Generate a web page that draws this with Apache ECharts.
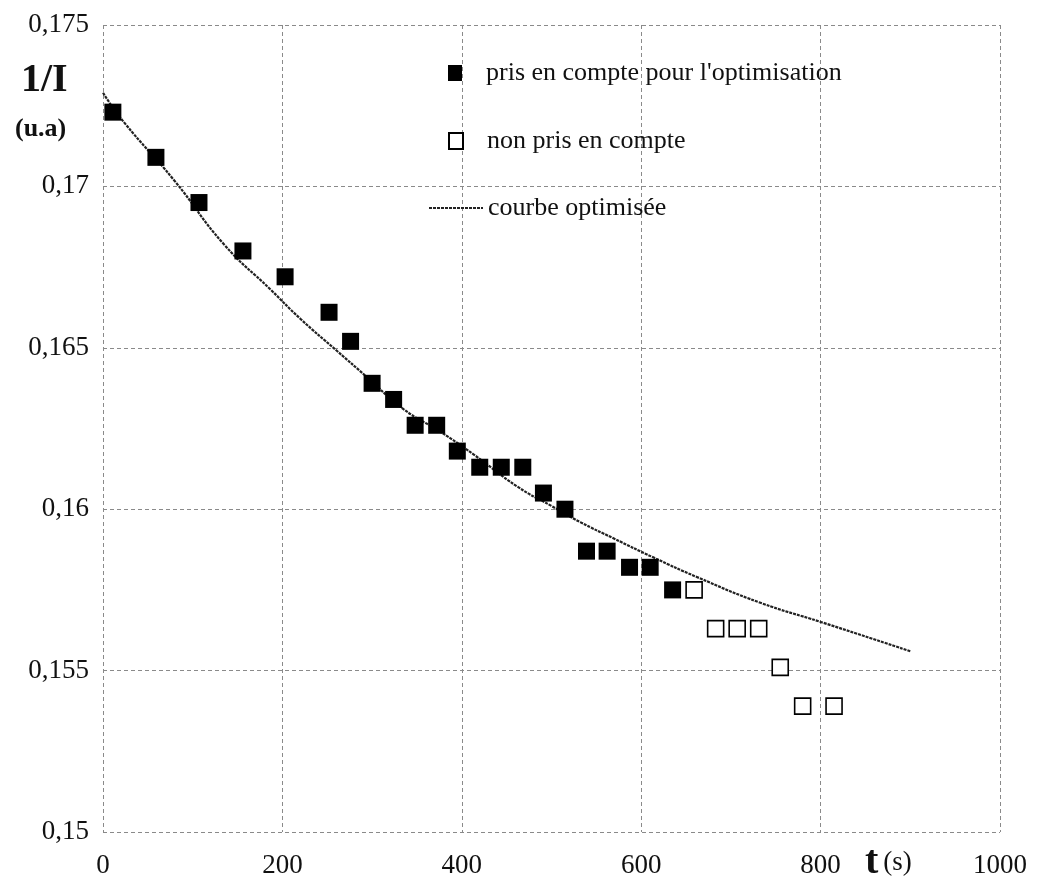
<!DOCTYPE html>
<html><head><meta charset="utf-8">
<script src="https://cdn.jsdelivr.net/npm/echarts@6/dist/echarts.min.js"></script>
<style>html,body{margin:0;padding:0;background:#fff}#c{width:1037px;height:889px}</style>
</head><body><div id="c"></div>
<script>
// Points used for the fit (filled squares)
const usedT = [11, 59, 107, 156, 203, 252, 276, 300, 324, 348, 372, 395, 420, 444, 468, 491, 515, 539, 562, 587, 610, 635];
const usedV = [0.1723, 0.1709, 0.1695, 0.1680, 0.1672, 0.1661, 0.1652, 0.1639, 0.1634, 0.1626, 0.1626, 0.1618, 0.1613, 0.1613, 0.1613, 0.1605, 0.1600, 0.1587, 0.1587, 0.1582, 0.1582, 0.1575];
// Points not used (open squares)
const unusedT = [659, 683, 707, 731, 755, 780, 815];
const unusedV = [0.1575, 0.1563, 0.1563, 0.1563, 0.1551, 0.1539, 0.1539];
// Optimised curve
const fitT = [0, 23, 79, 135, 187, 220, 261, 294, 335, 376, 413, 462, 500, 532, 569, 614, 662, 733, 801, 900];
const fitV = [0.1729, 0.1720, 0.1702, 0.1682, 0.1668, 0.1659, 0.1649, 0.1641, 0.1631, 0.1624, 0.1617, 0.1607, 0.1601, 0.1596, 0.1591, 0.1585, 0.1579, 0.1571, 0.1565, 0.1556];
// Axis settings / labels
const xMin = 0, xMax = 1000, xStep = 200;
const yMin = 0.150, yMax = 0.175, yStep = 0.005;
const nameUsed = "pris en compte pour l'optimisation";
const nameUnused = "non pris en compte";
const nameFit = "courbe optimisée";
const yTitle = "1/I";
const yUnit = "(u.a)";
const xTitle = "t";
const xUnit = "(s)";

const FONT = "'Liberation Serif', 'DejaVu Serif', serif";
const zip = (a, b) => a.map((v, i) => [v, b[i]]);
const grid = { color: '#8a8a8a', type: [4, 3], width: 1 };

const chart = echarts.init(document.getElementById('c'), null, { renderer: 'canvas' });
chart.setOption({
  backgroundColor: '#fff',
  animation: false,
  grid: { left: 103, right: 37, top: 25, bottom: 57, containLabel: false },
  title: [
    { text: yTitle, left: 16, top: 56, textStyle: { fontFamily: FONT, fontWeight: 'bold', fontSize: 40, color: '#111' } },
    { text: yUnit, left: 10, top: 111, textStyle: { fontFamily: FONT, fontWeight: 'bold', fontSize: 26, color: '#111' } },
    { text: '{t|' + xTitle + '} {s|' + xUnit + '}', left: 860, top: 838,
      textStyle: { fontWeight: 'normal', rich: {
        t: { fontFamily: FONT, fontWeight: 'bold', fontSize: 40, color: '#111' },
        s: { fontFamily: FONT, fontWeight: 'normal', fontSize: 27, color: '#111' } } } }
  ],
  legend: [
    { data: [{ name: nameUsed, icon: 'rect' }], left: 443, top: 55, itemWidth: 14, itemHeight: 16, selectedMode: false,
      textStyle: { fontFamily: FONT, fontSize: 26, color: '#111', padding: [0, 0, 0, 19] } },
    { data: [{ name: nameUnused, icon: 'rect' }], left: 443, top: 123, itemWidth: 14, itemHeight: 16, selectedMode: false,
      textStyle: { fontFamily: FONT, fontSize: 26, color: '#111', padding: [0, 0, 0, 19] } },
    { data: [{ name: nameFit }], left: 423, top: 190, itemWidth: 54, itemHeight: 10, selectedMode: false,
      itemStyle: { opacity: 0 },
      textStyle: { fontFamily: FONT, fontSize: 26, color: '#111' } }
  ],
  xAxis: {
    type: 'value', min: xMin, max: xMax, interval: xStep,
    axisLine: { show: false }, axisTick: { show: false },
    splitLine: { show: true, showMinLine: true, showMaxLine: true, lineStyle: grid },
    axisLabel: { fontFamily: FONT, fontSize: 27, color: '#111', margin: 20, formatter: v => String(v) }
  },
  yAxis: {
    type: 'value', min: yMin, max: yMax, interval: yStep,
    axisLine: { show: false }, axisTick: { show: false },
    splitLine: { show: true, showMinLine: true, showMaxLine: true, lineStyle: grid },
    axisLabel: { fontFamily: FONT, fontSize: 27, color: '#111', margin: 14,
      formatter: v => String(+v.toFixed(3)).replace('.', ',') }
  },
  series: [
    { name: nameFit, type: 'line', data: zip(fitT, fitV), smooth: true, showSymbol: false, symbol: 'none', z: 1,
      lineStyle: { color: '#222', width: 2.2, type: [3, 1] }, itemStyle: { color: '#222' } },
    { name: nameUsed, type: 'scatter', data: zip(usedT, usedV), symbol: 'rect', symbolSize: 17, z: 3,
      itemStyle: { color: '#000', opacity: 1 } },
    { name: nameUnused, type: 'scatter', data: zip(unusedT, unusedV), symbol: 'rect', symbolSize: 16, z: 3,
      itemStyle: { color: '#fff', borderColor: '#000', borderWidth: 1.6, opacity: 1 } }
  ]
});
</script>
</body></html>
